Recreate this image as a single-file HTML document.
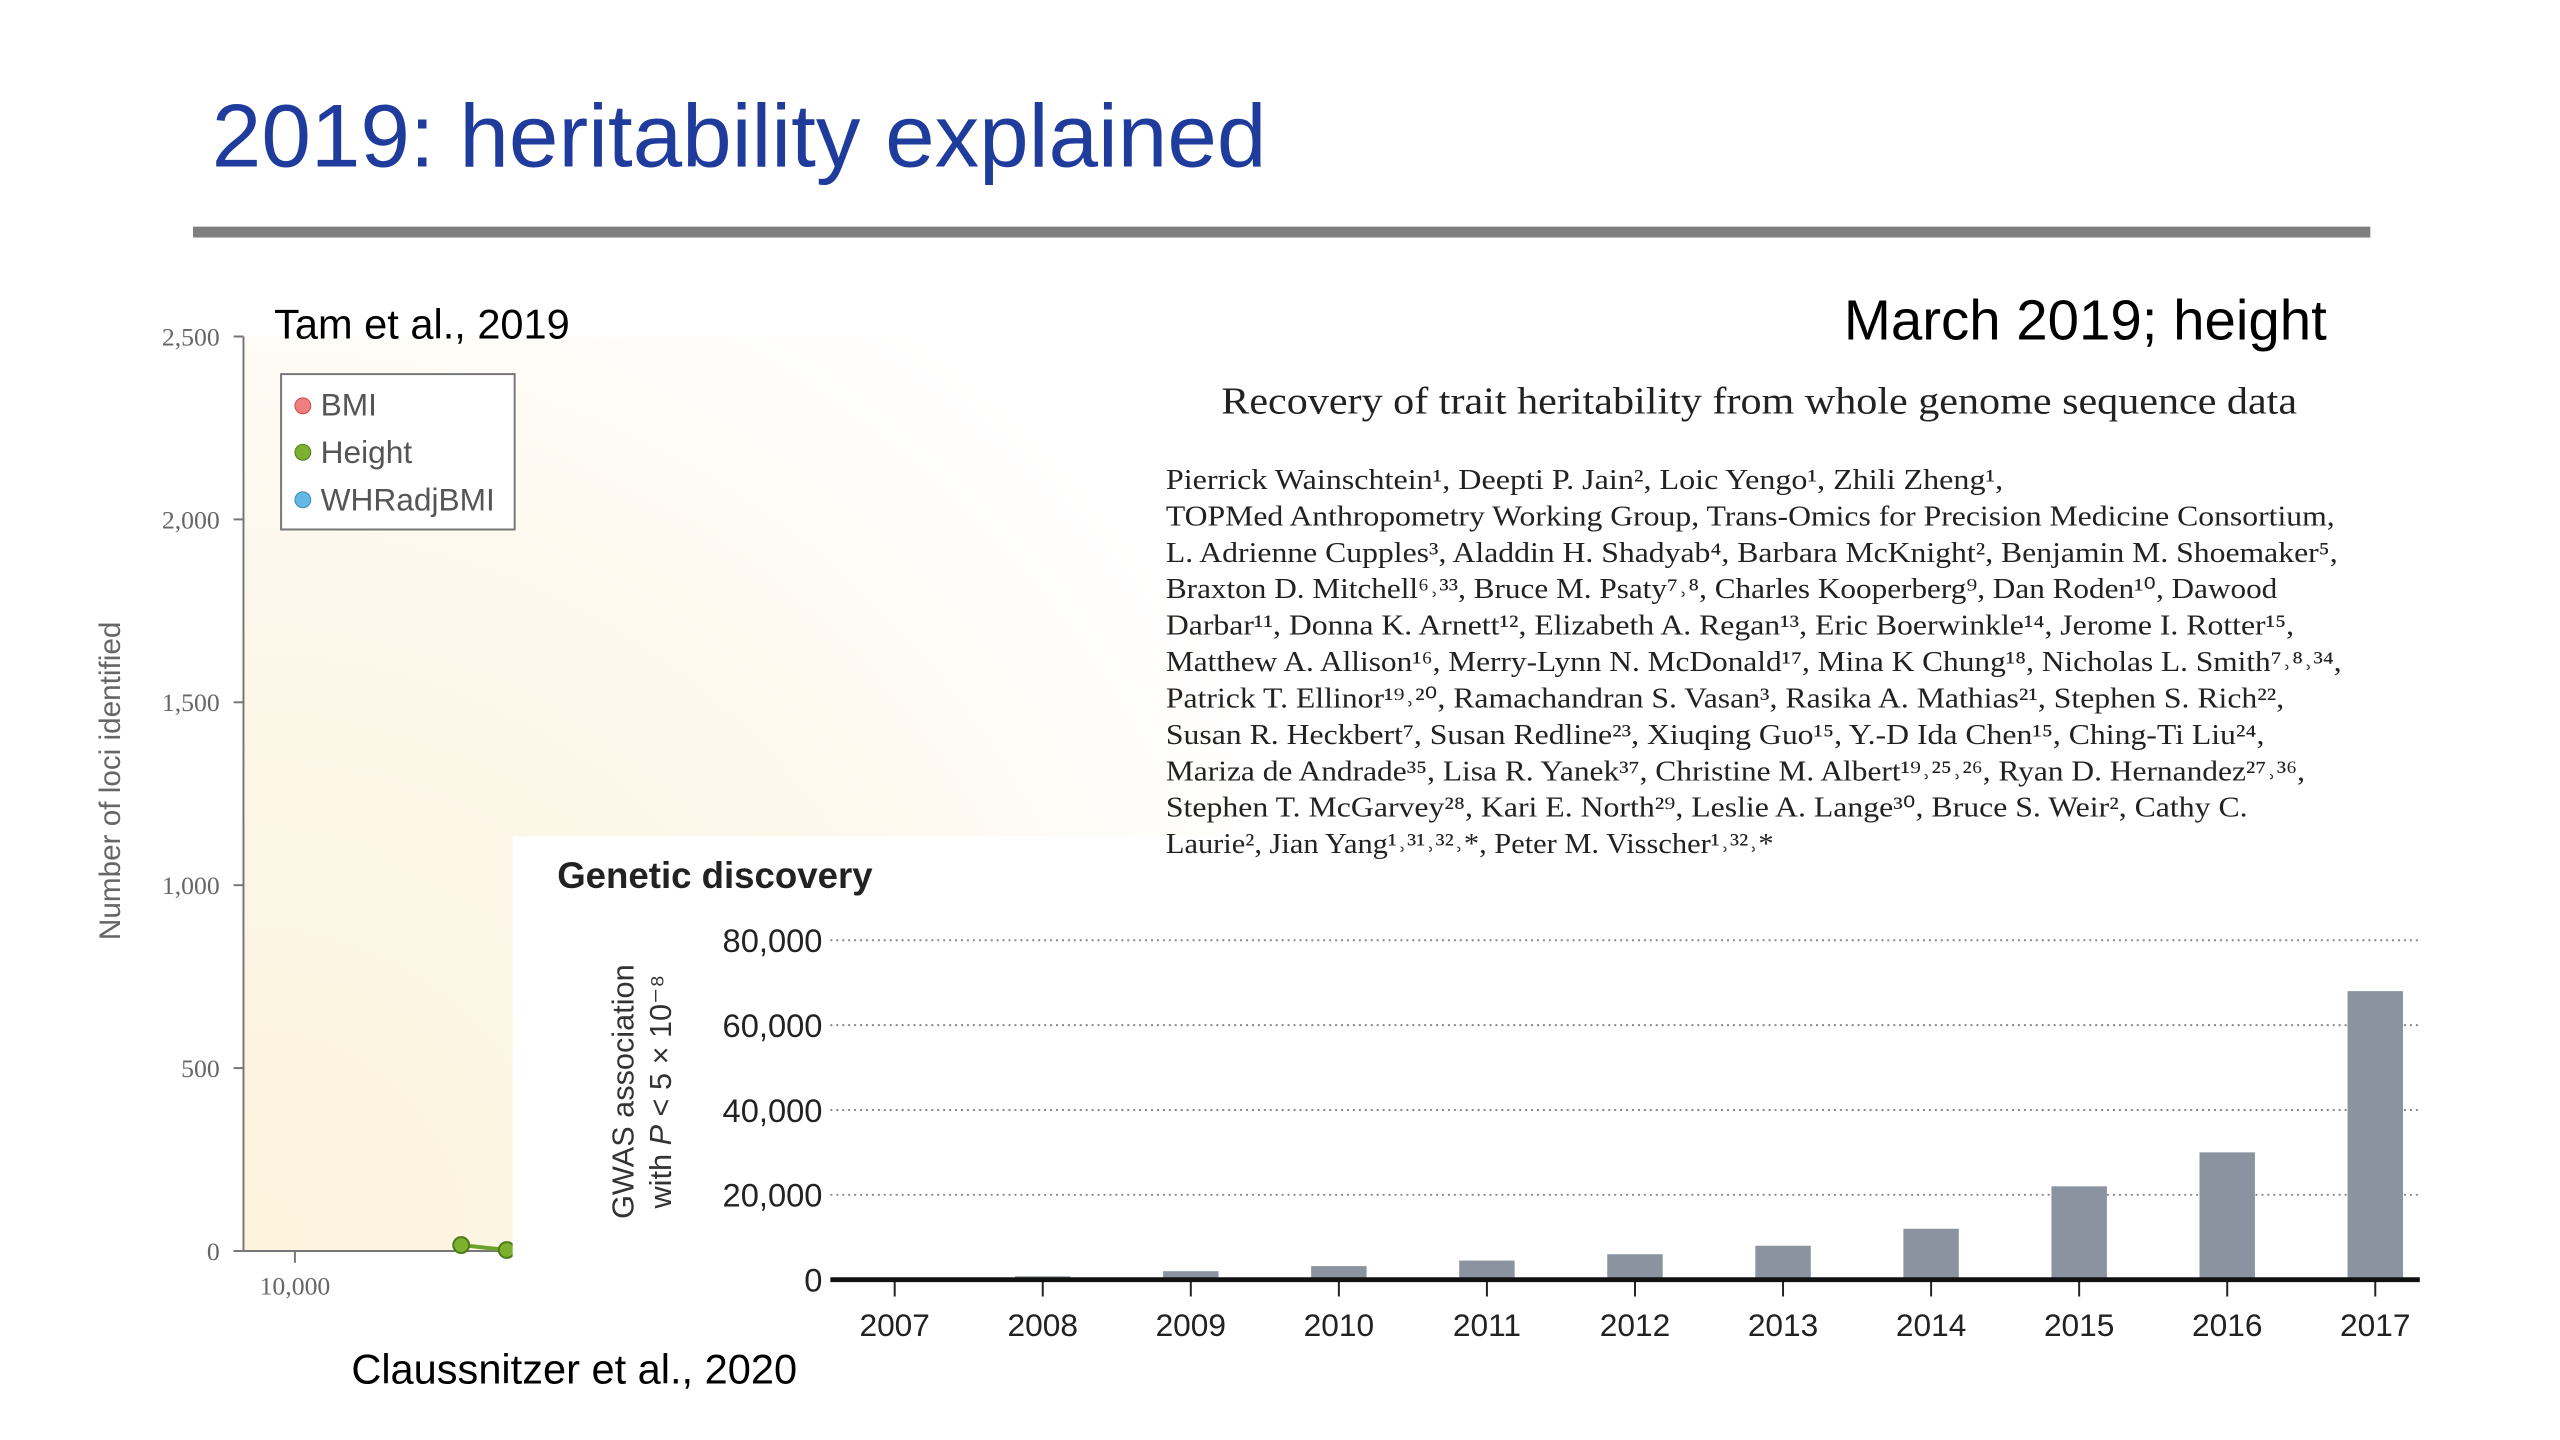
<!DOCTYPE html>
<html><head><meta charset="utf-8">
<style>
html,body{margin:0;padding:0;background:#fff;}
svg{display:block;}
.serif{font-family:"Liberation Serif",serif;}
.sans{font-family:"Liberation Sans",sans-serif;}
</style></head>
<body>
<svg id="slide" width="2560" height="1440" viewBox="0 0 2560 1440" xmlns="http://www.w3.org/2000/svg">
<defs>
<radialGradient id="cream" cx="248" cy="1264" r="1150" gradientUnits="userSpaceOnUse">
<stop offset="0" stop-color="#fcf3dc"/>
<stop offset="0.6" stop-color="#fdf8ec"/>
<stop offset="1" stop-color="#ffffff"/>
</radialGradient>
</defs>
<rect width="2560" height="1440" fill="#fff"/>
<g transform="scale(0.9897)">
<text x="214" y="168" class="sans" font-size="90" fill="#1f3b9c">2019: heritability explained</text>
<rect x="195" y="229" width="2200" height="11" fill="#7f7f7f"/>

<g>
<rect x="246" y="340" width="1000" height="924" fill="url(#cream)"/>
<line x1="246" y1="340" x2="246" y2="1264" stroke="#777" stroke-width="2"/>
<line x1="246" y1="1264" x2="520" y2="1264" stroke="#777" stroke-width="2"/>
<g id="lociTicks" class="serif" font-size="26" fill="#666"></g>
<line x1="298" y1="1264" x2="298" y2="1276" stroke="#777" stroke-width="2"/>
<text x="298" y="1308" text-anchor="middle" class="serif" font-size="26" fill="#666">10,000</text>
<text transform="translate(121,789) rotate(-90)" text-anchor="middle" class="sans" font-size="30" fill="#666">Number of loci identified</text>
<g>
<rect x="284" y="378" width="236" height="157" fill="#fff" stroke="#777" stroke-width="2"/>
<circle cx="306" cy="410" r="8" fill="#ef7f7f" stroke="#c44" stroke-width="1"/>
<text x="324" y="420" class="sans" font-size="32" fill="#555">BMI</text>
<circle cx="306" cy="457" r="8" fill="#7cb130" stroke="#4e7a18" stroke-width="1"/>
<text x="324" y="468" class="sans" font-size="32" fill="#555">Height</text>
<circle cx="306" cy="505" r="8" fill="#63b9e3" stroke="#3a88b0" stroke-width="1"/>
<text x="324" y="516" class="sans" font-size="32" fill="#555">WHRadjBMI</text>
</g>
<line x1="466" y1="1258" x2="512" y2="1263" stroke="#6aa12a" stroke-width="4"/>
<circle cx="466" cy="1258" r="8" fill="#7cb130" stroke="#4e7a18" stroke-width="2"/>
<circle cx="512" cy="1263" r="8" fill="#7cb130" stroke="#4e7a18" stroke-width="2"/>
</g>
<text x="277" y="342" class="sans" font-size="42" fill="#000">Tam et al., 2019</text>

<rect x="518" y="845" width="2100" height="650" fill="#fff"/>

<text x="2351" y="343" text-anchor="end" class="sans" font-size="57" fill="#000">March 2019; height</text>
<text x="1234" y="418" textLength="1087" lengthAdjust="spacingAndGlyphs" class="serif" font-size="38" fill="#222">Recovery of trait heritability from whole genome sequence data</text>
<g id="authors" class="serif" font-size="29" fill="#222"></g>

<text x="563" y="897" class="sans" font-size="37" font-weight="bold" fill="#222">Genetic discovery</text>
<text transform="translate(640,1103) rotate(-90)" text-anchor="middle" class="sans" font-size="31" fill="#333"><tspan x="0" dy="0">GWAS association</tspan><tspan x="0" dy="38">with <tspan font-style="italic">P</tspan> &lt; 5 × 10⁻⁸</tspan></text>
<g id="bars"></g>
<text x="355" y="1398" class="sans" font-size="42" fill="#000">Claussnitzer et al., 2020</text>
</g>
</svg>

<script>
const lociTickValues = [0, 500, 1000, 1500, 2000, 2500];
const lociTickLabels = ["0", "500", "1,000", "1,500", "2,000", "2,500"];
const years = ["2007","2008","2009","2010","2011","2012","2013","2014","2015","2016","2017"];
const gwasCounts = [300, 800, 2000, 3200, 4500, 6000, 8000, 12000, 22000, 30000, 68000];
const barTickValues = [0, 20000, 40000, 60000, 80000];
const barTickLabels = ["0", "20,000", "40,000", "60,000", "80,000"];
const authorLines = [
"Pierrick Wainschtein¹, Deepti P. Jain², Loic Yengo¹, Zhili Zheng¹,",
"TOPMed Anthropometry Working Group, Trans-Omics for Precision Medicine Consortium,",
"L. Adrienne Cupples³, Aladdin H. Shadyab⁴, Barbara McKnight², Benjamin M. Shoemaker⁵,",
"Braxton D. Mitchell⁶˒³³, Bruce M. Psaty⁷˒⁸, Charles Kooperberg⁹, Dan Roden¹⁰, Dawood",
"Darbar¹¹, Donna K. Arnett¹², Elizabeth A. Regan¹³, Eric Boerwinkle¹⁴, Jerome I. Rotter¹⁵,",
"Matthew A. Allison¹⁶, Merry-Lynn N. McDonald¹⁷, Mina K Chung¹⁸, Nicholas L. Smith⁷˒⁸˒³⁴,",
"Patrick T. Ellinor¹⁹˒²⁰, Ramachandran S. Vasan³, Rasika A. Mathias²¹, Stephen S. Rich²²,",
"Susan R. Heckbert⁷, Susan Redline²³, Xiuqing Guo¹⁵, Y.-D Ida Chen¹⁵, Ching-Ti Liu²⁴,",
"Mariza de Andrade³⁵, Lisa R. Yanek³⁷, Christine M. Albert¹⁹˒²⁵˒²⁶, Ryan D. Hernandez²⁷˒³⁶,",
"Stephen T. McGarvey²⁸, Kari E. North²⁹, Leslie A. Lange³⁰, Bruce S. Weir², Cathy C.",
"Laurie², Jian Yang¹˒³¹˒³²˒*, Peter M. Visscher¹˒³²˒*"
];
const authorLineEnds = [2024, 2359, 2362, 2301, 2318, 2366, 2308, 2288, 2329, 2271, 1792];

const NS = "http://www.w3.org/2000/svg";
function mk(tag, attrs, parent){ const e=document.createElementNS(NS,tag); for(const k in attrs) e.setAttribute(k,attrs[k]); parent.appendChild(e); return e; }

const lociY = v => 1264 - (v/2500)*924;
const lt = document.getElementById('lociTicks');
lociTickValues.forEach((v,i)=>{
  const l = mk('line',{x1:236,x2:246,y1:lociY(v),y2:lociY(v),stroke:'#777','stroke-width':2},lt);
  
  
  const t = mk('text',{x:222,y:lociY(v)+9,'text-anchor':'end'},lt);
  t.textContent = lociTickLabels[i];
  
  
});

const au = document.getElementById('authors');
authorLines.forEach((s,i)=>{
  const t = mk('text',{x:1178,y:494+i*36.8,textLength:authorLineEnds[i]-1178,lengthAdjust:'spacingAndGlyphs'},au);
  t.textContent = s;
  
  
});

const x0 = 904, step = (2400-904)/10;
const xPos = i => x0 + i*step;
const yB = v => 1293 - (v/80000)*343;
const g = document.getElementById('bars');
barTickValues.forEach((v,i)=>{
  if(v>0){
    const l = mk('line',{x1:839,x2:2445,y1:yB(v),y2:yB(v),stroke:'#888','stroke-width':2,'stroke-dasharray':'2 4'},g);
    
    
  }
  const t = mk('text',{x:831,y:yB(v)+12,'text-anchor':'end',class:'sans','font-size':33,fill:'#222'},g);
  t.textContent = barTickLabels[i];
  
  
});
years.forEach((yr,i)=>{
  const v = gwasCounts[i];
  const r = mk('rect',{x:xPos(i)-28,y:yB(v),width:56,height:1293-yB(v),fill:'#8a939f'},g);
  
  
  const tk = mk('line',{x1:xPos(i),x2:xPos(i),y1:1293,y2:1310,stroke:'#222','stroke-width':2},g);
  
  
  const t = mk('text',{x:xPos(i),y:1350,'text-anchor':'middle',class:'sans','font-size':32,fill:'#222'},g);
  t.textContent = yr;
  
  
});
const ax = mk('line',{x1:839,x2:2445,y1:1293,y2:1293,stroke:'#111','stroke-width':5},g);


</script>
</body></html>
